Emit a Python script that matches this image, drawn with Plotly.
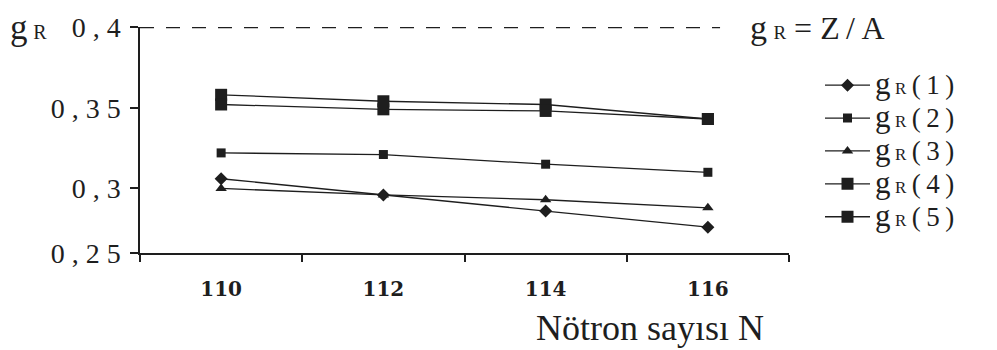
import plotly.graph_objects as go

# Neutron number N and the g_R estimates for each model
neutron_number = [110, 112, 114, 116]
gR_1 = [0.306, 0.296, 0.286, 0.276]
gR_2 = [0.322, 0.321, 0.315, 0.310]
gR_3 = [0.300, 0.296, 0.293, 0.288]
gR_4 = [0.358, 0.354, 0.352, 0.343]
gR_5 = [0.352, 0.349, 0.348, 0.343]

# Reference value g_R = Z/A
gR_ZA = 0.4

series_names = ["1", "2", "3", "4", "5"]
series_values = [gR_1, gR_2, gR_3, gR_4, gR_5]

y_tick_values = [0.26, 0.30, 0.35, 0.40]
y_tick_labels = ["0 , 2 5", "0 , 3", "0 , 3 5", "0 , 4"]
x_tick_values = [110, 112, 114, 116]
x_tick_labels = ["110", "112", "114", "116"]
x_divider_ticks = [109, 111, 113, 115, 117]

SERIF = "Liberation Serif"
INK = "#1e1e1e"
THIN = "\u2009"


def g_r(size):
    """g with a small upright R, as used in every label."""
    return (f"<span style='font-size:{size + 6}px'>g</span>{THIN}"
            f"<span style='font-size:{round(size * 0.68)}px'>R</span>")


def legend_label(name):
    return g_r(25) + f"<span style='font-size:27px'>{THIN}({THIN}{name}{THIN}){THIN}</span>"


marker_styles = [
    dict(symbol="diamond", size=10),
    dict(symbol="square", size=9),
    dict(symbol="triangle-up", size=10),
    dict(symbol="square", size=12),
    dict(symbol="square", size=12),
]

fig = go.Figure()
for name, vals, mk in zip(series_names, series_values, marker_styles):
    fig.add_trace(go.Scatter(
        x=neutron_number, y=vals, mode="lines+markers",
        name=legend_label(name),
        line=dict(color=INK, width=1.3),
        marker=dict(color=INK, line=dict(width=0), **mk),
    ))

# dashed reference line at Z/A
fig.add_shape(type="line", xref="x", yref="y",
              x0=109, x1=116.15, y0=gR_ZA, y1=gR_ZA,
              line=dict(color=INK, width=2.5, dash="14px,12px"))

fig.add_annotation(text=g_r(28) + f" = Z{THIN}/{THIN}A", xref="paper", yref="y",
                   x=(748 - 140) / 649, y=gR_ZA, xanchor="left", yanchor="middle",
                   showarrow=False, font=dict(family=SERIF, size=32, color=INK))

fig.add_annotation(text=g_r(29), xref="paper", yref="y",
                   x=(8 - 140) / 649, y=gR_ZA, xanchor="left", yanchor="middle",
                   showarrow=False, font=dict(family=SERIF, size=29, color=INK))

fig.add_annotation(text="Nötron sayısı N", xref="paper", yref="paper",
                   x=(650 - 140) / 649, y=(253 - 329) / 228,
                   xanchor="center", yanchor="middle", showarrow=False,
                   font=dict(family=SERIF, size=36, color=INK))

fig.update_xaxes(
    range=[109, 117], showgrid=False, zeroline=False,
    showline=True, linecolor=INK, linewidth=1.5,
    tickmode="array", tickvals=x_tick_values, ticktext=x_tick_labels,
    ticks="", ticklabelstandoff=17,
    tickfont=dict(family="DejaVu Serif", size=20, color=INK, weight="bold"),
    minor=dict(tickmode="array", tickvals=x_divider_ticks, ticks="outside",
               ticklen=7, tickwidth=1.5, tickcolor=INK),
)
fig.update_yaxes(
    range=[0.26, 0.4], showgrid=False, zeroline=False,
    showline=True, linecolor=INK, linewidth=1.5,
    tickmode="array", tickvals=y_tick_values, ticktext=y_tick_labels,
    ticks="outside", ticklen=8, tickwidth=1.5, tickcolor=INK,
    ticklabelstandoff=4,
    tickfont=dict(family=SERIF, size=28, color=INK),
)

fig.update_layout(
    width=997, height=350,
    margin=dict(l=140, r=208, t=25, b=97),
    paper_bgcolor="white", plot_bgcolor="white",
    showlegend=True,
    legend=dict(x=(820 - 140) / 649, y=(253 - 62) / 228, xanchor="left", yanchor="top",
                xref="paper", yref="paper", itemwidth=45, tracegroupgap=0,
                bgcolor="rgba(0,0,0,0)", borderwidth=0,
                font=dict(family=SERIF, size=23, color=INK)),
)

fig.write_html("out.html")
